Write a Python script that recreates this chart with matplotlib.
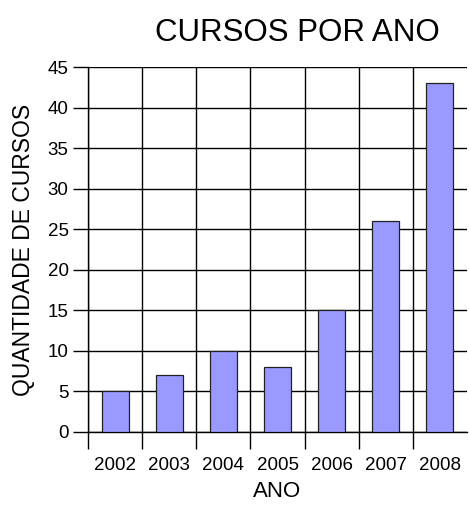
import matplotlib.pyplot as plt
import numpy as np

# data
anos = ["2002", "2003", "2004", "2005", "2006", "2007", "2008"]
cursos = [5, 7, 10, 8, 15, 26, 43]
y_ticks = [0, 5, 10, 15, 20, 25, 30, 35, 40, 45]

plt.rcParams["font.family"] = ["Liberation Sans", "DejaVu Sans"]

fig = plt.figure(figsize=(4.69, 5.13), dpi=100)
ax = fig.add_axes([88 / 469, 1 - 432 / 513, 379 / 469, 365 / 513])

x = np.arange(len(anos))
ax.bar(x, cursos, width=0.5, color="#9999FF", edgecolor="#222222",
       linewidth=0.9, zorder=3)

ax.set_xlim(-0.5, len(anos) - 0.5)
ax.set_ylim(0, 45)
ax.set_yticks(y_ticks)
ax.set_xticks(x)
ax.set_xticklabels(anos)

# category boundaries: ticks + vertical grid lines
bounds = np.arange(-0.5, len(anos) - 1, 1.0)
ax.set_xticks(bounds, minor=True)
ax.tick_params(axis="x", which="major", length=0, pad=18, labelsize=13.5)
ax.tick_params(axis="x", which="minor", length=12, width=1, color="black",
               direction="out")
ax.tick_params(axis="y", length=11, width=1, labelsize=13.5, pad=3)

ax.grid(axis="y", which="major", color="black", linewidth=1, zorder=0)
ax.grid(axis="x", which="minor", color="black", linewidth=1, zorder=0)

for s in ["top", "right"]:
    ax.spines[s].set_visible(False)
ax.spines["left"].set_linewidth(1)
ax.spines["bottom"].set_linewidth(1)

ax.set_ylabel("QUANTIDADE DE CURSOS", fontsize=16.5, labelpad=9)
ax.set_xlabel("ANO", fontsize=16, labelpad=5)
fig.text(297 / 469, 1 - 33 / 513, "CURSOS POR ANO", fontsize=22.5,
         ha="center", va="center")

fig.savefig("out.png", dpi=100)
